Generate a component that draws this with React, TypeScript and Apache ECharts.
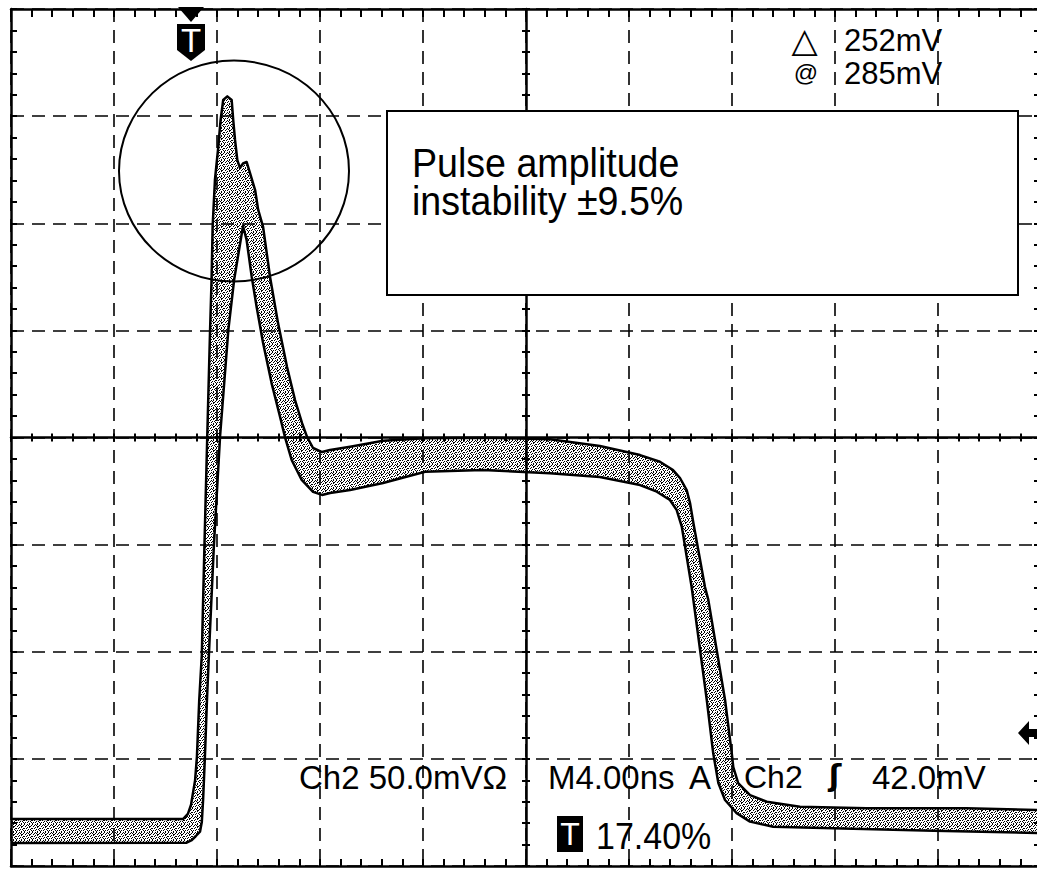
import { useEffect, useRef } from "react";
import * as echarts from "echarts";

// ---- scope settings (10 x 8 divisions) ----
const timeMinNs = 0;
const timeMaxNs = 40;
const timeDivNs = 4;
const voltMinMv = -200;
const voltMaxMv = 200;
const voltDivMv = 50;

// ---- envelope of the persisted trace: upper edge ----
const upperTimeNs = [
  0, 6.68, 6.87, 6.99, 7.15, 7.22, 7.31, 7.41, 7.51, 7.62,
  7.73, 7.79, 7.83, 7.92, 8.05, 8.14, 8.24, 8.4, 8.57, 8.63,
  8.7, 8.79, 8.89, 9.01, 9.15, 9.28, 9.48, 9.6, 9.79, 10.06,
  10.37, 10.72, 11.03, 11.3, 11.5, 11.73, 12.08, 12.39, 13.17, 14.45,
  16.08, 18.33, 20.93, 22.87, 24.43, 25.2, 25.71, 25.98, 26.24, 26.37,
  26.5, 26.69, 26.95, 27.08, 27.73, 27.99, 28.05, 28.24, 28.7, 29.35,
  30.64, 33.23, 37.11, 40,
];
const upperMv = [
  -178.1, -178.1, -175.7, -171.5, -159.9, -149.1, -122.5, -101.5, -51.6, -0.2,
  49.7, 74.0, 98.3, 120.2, 135.6, 148.2, 157.5, 159.2, 157.5, 148.2,
  138.9, 129.5, 125.8, 127.9, 128.6, 123.5, 115.5, 106.2, 98.3, 74.9,
  53.4, 32.9, 17.5, 6.8, 0.2, -4.9, -6.8, -5.8, -4.3, -1.5,
  -0.4, -0.1, -0.8, -4.0, -8.2, -11.3, -15.2, -18.9, -24.5, -30.6,
  -39.9, -52.5, -69.8, -75.8, -122.5, -147.3, -153.8, -161.3, -166.9, -170.0,
  -172.3, -173.1, -173.1, -173.9,
];

// ---- envelope of the persisted trace: lower edge ----
const lowerTimeNs = [
  0, 6.82, 7.02, 7.18, 7.34, 7.41, 7.46, 7.53, 7.61, 7.69,
  7.88, 8.12, 8.44, 8.67, 9.01, 9.15, 9.35, 9.54, 9.79, 10.12,
  10.45, 10.64, 10.9, 11.29, 11.73, 12.08, 12.39, 13.17, 14.45, 16.08,
  18.33, 20.93, 22.87, 24.43, 25.08, 25.59, 25.85, 26.05, 26.24, 26.43,
  26.5, 27.02, 27.27, 27.47, 27.73, 28.18, 28.7, 29.6, 31.93, 35.82,
  40,
];
const lowerMv = [
  -189.3, -189.1, -187.9, -186.0, -184.0, -179.5, -169.2, -149.1, -122.5, -100.1,
  -50.2, 0.7, 50.2, 74.0, 98.7, 92.2, 74.9, 60.9, 44.1, 25.4,
  9.6, 0.2, -10.5, -19.8, -25.4, -26.8, -25.9, -24.5, -21.2, -16.0,
  -15.2, -16.7, -18.4, -22.2, -25.3, -29.2, -33.8, -41.6, -55.6, -69.6,
  -75.8, -122.5, -147.3, -161.3, -169.2, -175.3, -179.3, -181.7, -182.4, -183.5,
  -184.6,
];

// ---- texts ----
const boxLines = ["Pulse amplitude", "instability ±9.5%"];
const deltaSymbol = "△";
const atSymbol = "@";
const cursorReadouts = ["252mV", "285mV"];
const channelScale = "Ch2 50.0mVΩ";
const timebase = "M4.00ns";
const triggerMode = "A";
const triggerSource = "Ch2";
const triggerSlope = "ʃ";
const triggerLevel = "42.0mV";
const triggerMark = "T";
const triggerPosition = "17.40%";

// dither texture of the stippled trace
const STIPPLE = [
  "10010100",
  "00101001",
  "01000110",
  "00010100",
  "10100001",
  "00001010",
  "01010001",
  "10000100",
];

function makeStipple(): HTMLCanvasElement {
  const c = document.createElement("canvas");
  c.width = 8;
  c.height = 8;
  const ctx = c.getContext("2d")!;
  ctx.fillStyle = "#fff";
  ctx.fillRect(0, 0, 8, 8);
  ctx.fillStyle = "#000";
  STIPPLE.forEach((row, y) => {
    for (let x = 0; x < row.length; x++) if (row[x] === "1") ctx.fillRect(x, y, 1, 1);
  });
  return c;
}

const FONT = '"Liberation Sans", Arial, Helvetica, sans-serif';

type TxtOpts = { scaleX?: number; scaleY?: number; color?: string; align?: string; family?: string; weight?: string };
function txt(text: string, x: number, y: number, size: number, o: TxtOpts = {}) {
  const align = o.align ?? "left";
  return {
    type: "text",
    z: 12,
    x,
    y,
    scaleX: o.scaleX ?? 1,
    scaleY: o.scaleY ?? 1,
    silent: true,
    style: {
      text,
      x: 0,
      y: 0,
      font: `${o.weight ?? "normal"} ${size}px ${o.family ?? FONT}`,
      fill: o.color ?? "#000",
      textAlign: align,
      align,
      textVerticalAlign: "middle",
      verticalAlign: "middle",
    },
  };
}

export default function App() {
  const ref = useRef<HTMLDivElement>(null);
  useEffect(() => {
    const el = ref.current!;
    const chart = echarts.init(el, null, { renderer: "svg" });
    const pattern = { image: makeStipple(), repeat: "repeat", imageWidth: 8, imageHeight: 8 };

    const gridLine = { color: "#000", width: 1.6, type: [13, 8] };
    const tickStyle = { color: "#000", width: 2 };
    const W = 1030;
    const H = 857;

    const mkX = (position: string, offset: number, inside: boolean, len: number, showLine: boolean, showSplit: boolean) => ({
      type: "value",
      gridIndex: 0,
      min: timeMinNs,
      max: timeMaxNs,
      interval: timeDivNs,
      position,
      offset,
      z: 3,
      axisLabel: { show: false },
      axisLine: { show: showLine, onZero: false, lineStyle: { color: "#000", width: 2.5 } },
      axisTick: { show: true, inside, length: len, lineStyle: tickStyle },
      minorTick: { show: true, splitNumber: 5, length: len, lineStyle: tickStyle },
      splitLine: { show: showSplit, lineStyle: gridLine },
    });
    const mkY = (position: string, offset: number, inside: boolean, len: number, showLine: boolean, showSplit: boolean) => ({
      type: "value",
      gridIndex: 0,
      min: voltMinMv,
      max: voltMaxMv,
      interval: voltDivMv,
      position,
      offset,
      z: 3,
      axisLabel: { show: false },
      axisLine: { show: showLine, onZero: false, lineStyle: { color: "#000", width: 2.5 } },
      axisTick: { show: true, inside, length: len, lineStyle: tickStyle },
      minorTick: { show: true, splitNumber: 5, length: len, lineStyle: tickStyle },
      splitLine: { show: showSplit, lineStyle: gridLine },
    });

    const option: any = {
      animation: false,
      backgroundColor: "#fff",
      grid: { left: 11, top: 9, width: W, height: H, outerBoundsMode: "none", containLabel: false, show: false },
      xAxis: [
        mkX("bottom", 0, true, 7, true, true),
        mkX("top", 0, true, 8, true, false),
        mkX("bottom", -H / 2, true, 4, true, false),
        mkX("bottom", -H / 2, false, 4, false, false),
      ],
      yAxis: [
        mkY("left", 0, true, 6, true, true),
        mkY("right", 0, true, 7, true, false),
        mkY("left", -W / 2, true, 4, true, false),
        mkY("left", -W / 2, false, 4, false, false),
      ],
      series: [
        {
          type: "custom",
          name: "band",
          coordinateSystem: "cartesian2d",
          xAxisIndex: 0,
          yAxisIndex: 0,
          z: 1,
          silent: true,
          clip: true,
          data: [[upperTimeNs[0], upperMv[0]]],
          renderItem: (_p: any, api: any) => {
            const pts: number[][] = [];
            upperTimeNs.forEach((t, i) => pts.push(api.coord([t, upperMv[i]])));
            for (let i = lowerTimeNs.length - 1; i >= 0; i--) pts.push(api.coord([lowerTimeNs[i], lowerMv[i]]));
            return { type: "polygon", shape: { points: pts }, style: { fill: pattern, stroke: null } };
          },
        },
        {
          type: "line",
          name: "upper",
          xAxisIndex: 0,
          yAxisIndex: 0,
          z: 2,
          silent: true,
          symbol: "none",
          showSymbol: false,
          lineStyle: { color: "#000", width: 2.5, join: "round" },
          data: upperTimeNs.map((t, i) => [t, upperMv[i]]),
        },
        {
          type: "line",
          name: "lower",
          xAxisIndex: 0,
          yAxisIndex: 0,
          z: 2,
          silent: true,
          symbol: "none",
          showSymbol: false,
          lineStyle: { color: "#000", width: 2.5, join: "round" },
          data: lowerTimeNs.map((t, i) => [t, lowerMv[i]]),
        },
      ],
      graphic: [
        { type: "ellipse", z: 10, silent: true, shape: { cx: 234, cy: 171, rx: 115, ry: 110.5 }, style: { fill: "none", stroke: "#000", lineWidth: 2 } },
        { type: "rect", z: 10, silent: true, shape: { x: 387, y: 111, width: 631, height: 184 }, style: { fill: "#fff", stroke: "#000", lineWidth: 2 } },
        txt(boxLines[0], 412, 163, 40, { scaleX: 0.94 }),
        txt(boxLines[1], 412, 201, 40, { scaleX: 0.94 }),
        txt(deltaSymbol, 804.5, 40, 34, { align: "center", family: '"DejaVu Sans", sans-serif' }),
        txt(atSymbol, 806, 72, 24, { align: "center" }),
        txt(cursorReadouts[0], 844, 40, 31),
        txt(cursorReadouts[1], 844, 73, 31),
        // trigger position marker at top
        { type: "polygon", z: 10, silent: true, shape: { points: [[178, 7], [204, 7], [191, 22]] }, style: { fill: "#000" } },
        { type: "polygon", z: 10, silent: true, shape: { points: [[177, 24], [205, 24], [205, 50], [191, 61], [177, 50]] }, style: { fill: "#000" } },
        txt(triggerMark, 191, 40, 33, { align: "center", color: "#fff" }),
        // trigger level arrow at right
        { type: "polygon", z: 10, silent: true, shape: { points: [[1018, 733], [1029, 721], [1029, 729], [1037, 729], [1037, 737], [1029, 737], [1029, 745]] }, style: { fill: "#000" } },
        // bottom readouts
        txt(channelScale, 299, 777, 33),
        txt(timebase, 548, 777, 33),
        txt(triggerMode, 689, 777, 33),
        txt(triggerSource, 744, 777, 32),
        txt(triggerSlope, 835, 775, 30, { align: "center", family: '"DejaVu Sans", sans-serif', weight: "bold" }),
        txt(triggerLevel, 872, 777, 33),
        { type: "rect", z: 10, silent: true, shape: { x: 557, y: 816, width: 26, height: 36 }, style: { fill: "#000" } },
        txt(triggerMark, 570, 834, 32, { align: "center", color: "#fff" }),
        txt(triggerPosition, 596, 836, 34, { scaleY: 1.08 }),
      ],
    };
    chart.setOption(option);
    return () => chart.dispose();
  }, []);
  return <div ref={ref} style={{ position: "absolute", left: 0, top: 0, width: 1037, height: 871, background: "#fff" }} />;
}
